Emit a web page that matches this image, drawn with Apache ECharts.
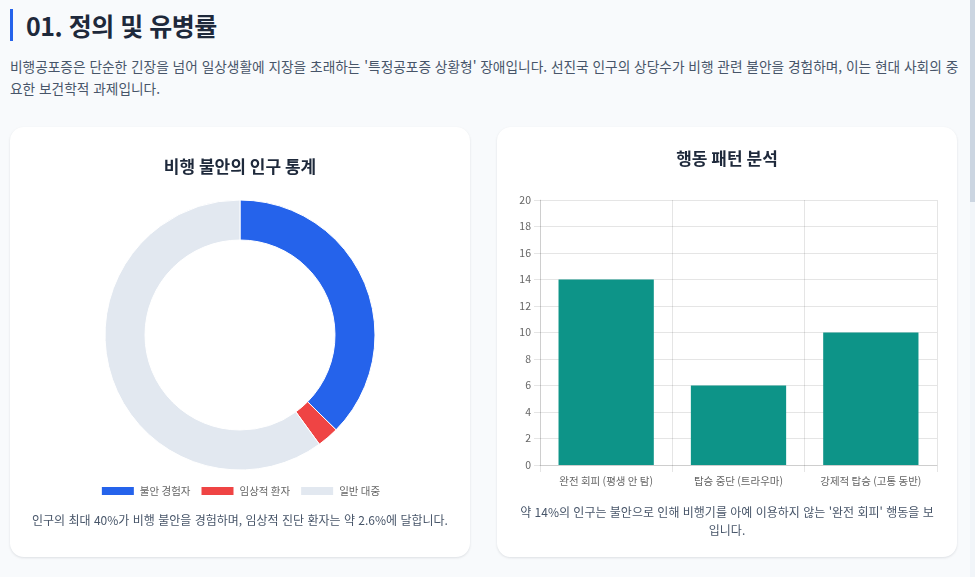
<!DOCTYPE html>
<html lang="ko">
<head>
<meta charset="utf-8">
<script src="https://cdn.jsdelivr.net/npm/echarts@6/dist/echarts.min.js"></script>
<style>
  html, body { margin: 0; padding: 0; }
  body {
    width: 975px; height: 577px; overflow: hidden; position: relative;
    background: #f8fafc;
    font-family: "Noto Sans CJK KR", "Noto Sans", sans-serif;
  }
  h2 {
    position: absolute; left: 10px; top: 9px; margin: 0;
    border-left: 3px solid #2563eb; padding-left: 13px;
    font-size: 25px; letter-spacing: -0.5px; line-height: 32px; font-weight: 700; color: #1e293b;
  }
  .intro {
    position: absolute; left: 10px; top: 55px; width: 955px; margin: 0;
    font-size: 13.7px; line-height: 22px; color: #475569;
  }
  .card {
    position: absolute; top: 127px; width: 460px; height: 430px;
    background: #fff; border-radius: 14px;
    box-shadow: 0 1px 3px rgba(15, 23, 42, 0.08), 0 1px 2px rgba(15, 23, 42, 0.04);
  }
  .chart { position: absolute; left: 0; top: 0; width: 460px; height: 430px; }
  .caption {
    position: absolute; left: 19px; width: 422px; margin: 0;
    text-align: center; font-size: 12px; line-height: 18px; color: #475569;
  }
  .track { position: absolute; right: 0; top: 0; width: 5px; height: 577px; background: #f1f5f9; }
  .thumb { position: absolute; right: 0; top: 0; width: 5px; height: 202px; background: #cbd5e1; }
</style>
</head>
<body>
<h2>01. 정의 및 유병률</h2>
<p class="intro">비행공포증은 단순한 긴장을 넘어 일상생활에 지장을 초래하는 '특정공포증 상황형' 장애입니다. 선진국 인구의 상당수가 비행 관련 불안을 경험하며, 이는 현대 사회의 중요한 보건학적 과제입니다.</p>

<div class="card" style="left:10px">
  <div id="pie" class="chart"></div>
  <p class="caption" style="top:384px">인구의 최대 40%가 비행 불안을 경험하며, 임상적 진단 환자는 약 2.6%에 달합니다.</p>
</div>
<div class="card" style="left:497px">
  <div id="bar" class="chart"></div>
  <p class="caption" style="top:376px">약 14%의 인구는 불안으로 인해 비행기를 아예 이용하지 않는 '완전 회피' 행동을 보입니다.</p>
</div>
<div class="track"></div><div class="thumb"></div>

<script>
// 인구 통계 (%)
var pieNames = ['불안 경험자', '임상적 환자', '일반 대중'];
var pieValues = [37.4, 2.6, 60];
var pieColors = ['#2563eb', '#ef4444', '#e2e8f0'];

// 행동 패턴 (%)
var barCategories = ['완전 회피 (평생 안 탐)', '탑승 중단 (트라우마)', '강제적 탑승 (고통 동반)'];
var barValues = [14, 6, 10];

var font = '"Noto Sans CJK KR", "Noto Sans", sans-serif';
var gridColor = 'rgba(0,0,0,0.1)';

// 도넛 차트
var pieData = [];
for (var i = 0; i < pieNames.length; i++) {
  pieData.push({ name: pieNames[i], value: pieValues[i], itemStyle: { color: pieColors[i] } });
}
var pieChart = echarts.init(document.getElementById('pie'));
pieChart.setOption({
  animation: false,
  title: {
    text: '비행 불안의 인구 통계',
    left: 'center',
    top: 26,
    textStyle: { fontFamily: font, fontSize: 17, fontWeight: 'bold', color: '#1e293b' }
  },
  legend: {
    top: 353,
    left: 'center',
    icon: 'rect',
    itemWidth: 34,
    itemHeight: 10,
    itemGap: 9,
    textStyle: { fontFamily: font, fontSize: 10.5, color: '#666' },
    data: pieNames
  },
  series: [{
    type: 'pie',
    radius: [95, 135],
    center: [230, 208],
    startAngle: 90,
    label: { show: false },
    labelLine: { show: false },
    itemStyle: { borderColor: '#fff', borderWidth: 1 },
    emphasis: { disabled: true },
    data: pieData
  }]
});

// 막대 차트
var barChart = echarts.init(document.getElementById('bar'));
barChart.setOption({
  animation: false,
  title: {
    text: '행동 패턴 분석',
    left: 'center',
    top: 18,
    textStyle: { fontFamily: font, fontSize: 17, fontWeight: 'bold', color: '#1e293b' }
  },
  grid: { left: 43, right: 20, top: 73, bottom: 92 },
  xAxis: {
    type: 'category',
    data: barCategories,
    axisLine: { lineStyle: { color: gridColor } },
    axisTick: { show: true, length: 7, lineStyle: { color: gridColor } },
    splitLine: { show: true, lineStyle: { color: gridColor } },
    axisLabel: { fontFamily: font, fontSize: 10.5, color: '#666', margin: 11, interval: 0 }
  },
  yAxis: {
    type: 'value',
    min: 0,
    max: 20,
    interval: 2,
    axisLine: { show: true, lineStyle: { color: gridColor } },
    axisTick: { show: true, length: 6, lineStyle: { color: gridColor } },
    splitLine: { show: true, lineStyle: { color: gridColor } },
    axisLabel: { fontFamily: font, fontSize: 10.5, color: '#666', margin: 9 }
  },
  series: [{
    type: 'bar',
    data: barValues,
    barWidth: '72%',
    itemStyle: { color: '#0d9488' },
    emphasis: { disabled: true }
  }]
});
</script>
</body>
</html>
